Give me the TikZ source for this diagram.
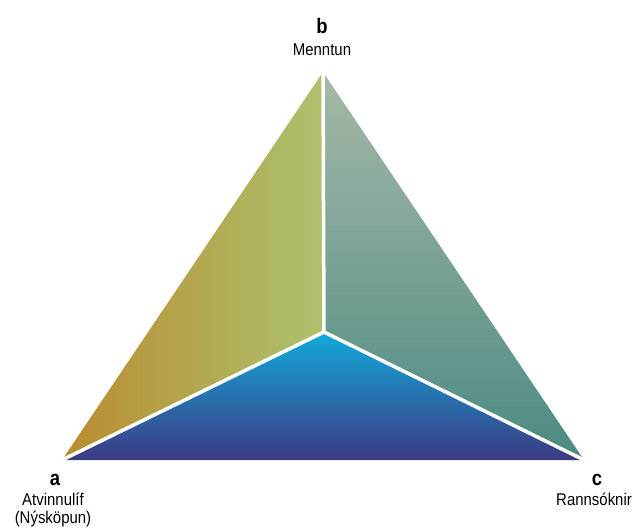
\documentclass[tikz,border=0pt]{standalone}
\usepackage{fontspec}
\setmainfont{Liberation Sans}[FakeStretch=0.88]
\usetikzlibrary{positioning}

\definecolor{ochre}{HTML}{B98C30}
\definecolor{olive}{HTML}{B7A349}
\definecolor{lime}{HTML}{ADC26E}
\definecolor{sage}{HTML}{A6B9A7}
\definecolor{teal}{HTML}{4C8A83}
\definecolor{sky}{HTML}{12AADB}
\definecolor{ocean}{HTML}{1F78AD}
\definecolor{indigo}{HTML}{3B3A82}

\begin{document}
\begin{tikzpicture}[
    x=1pt, y=-1pt,
    cornerletter/.style={font=\fontsize{21}{21}\selectfont\bfseries, inner sep=0pt, anchor=base},
    cornername/.style={font=\fontsize{17}{18}\selectfont, inner sep=0pt, align=center},
    seam/.style={white, line width=3.5pt}
]
\useasboundingbox (0,0) rectangle (635,530);

% Corners
\coordinate (a) at (62,460);
\coordinate (b) at (323,72);
\coordinate (c) at (584,460);
\coordinate (o) at (324,332);

% Faces
\shade[left color=ochre, middle color=olive, right color=lime] (a) -- (b) -- (o) -- cycle;
\shade[top color=sage, bottom color=teal] (b) -- (c) -- (o) -- cycle;
\shade[top color=sky, middle color=ocean, bottom color=indigo] (a) -- (o) -- (c) -- cycle;

% Seams
\draw[seam] (o) -- (a);
\draw[seam] (o) -- (b);
\draw[seam] (o) -- (c);

% Labels
\node[cornerletter] (bLetter) at (322,33) {b};
\node[cornername, anchor=base] (bName) at (322,55) {Menntun};
\node[cornerletter] (aLetter) at (55,485) {a};
\node[cornername, anchor=north] (aName) at (53,493) {Atvinnulíf\\(Nýsköpun)};
\node[cornerletter] (cLetter) at (597,485) {c};
\node[cornername, anchor=base west] (cName) at (556,505) {Rannsóknir};

\end{tikzpicture}
\end{document}
